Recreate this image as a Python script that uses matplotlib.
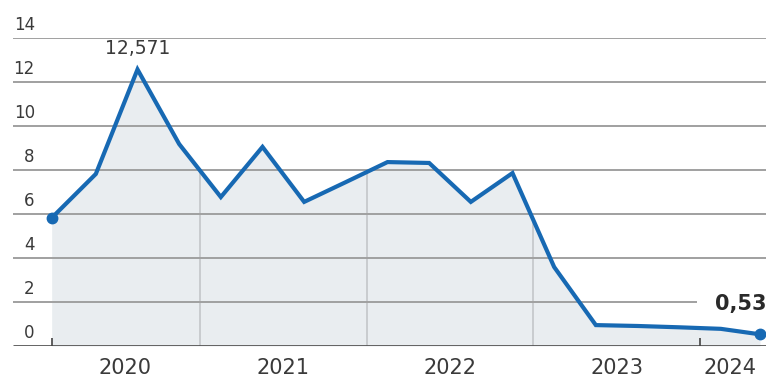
import numpy as np
import matplotlib.pyplot as plt
import matplotlib.transforms as mtransforms

# quarterly values, x as decimal years
dates = [2020.11, 2020.375, 2020.625, 2020.875,
         2021.125, 2021.375, 2021.625, 2021.875,
         2022.125, 2022.375, 2022.625, 2022.875,
         2023.125, 2023.375, 2023.625, 2023.875,
         2024.125, 2024.36]
values = [5.82, 7.82, 12.571, 9.18,
          6.77, 9.05, 6.55, 7.45,
          8.36, 8.32, 6.55, 7.86,
          3.59, 0.95, 0.91, 0.85,
          0.78, 0.53]

y_ticks = [0, 2, 4, 6, 8, 10, 12, 14]
year_labels = ['2020', '2021', '2022', '2023', '2024']
year_label_pos = [2020.55, 2021.5, 2022.5, 2023.5, 2024.18]
year_bounds = [2021, 2022, 2023]
small_ticks = [2020.11, 2024.0]

blue = '#1769b3'
grid_col = '#a0a0a0'
text_col = '#3a3a3a'

fig = plt.figure(figsize=(7.66, 3.83), dpi=100)
ax = fig.add_axes([13 / 766, 37 / 383, 753 / 766, 308 / 383])
ax.set_xlim(2019.878, 2024.396)
ax.set_ylim(0, 14)
ax.axis('off')

x = np.array(dates)
y = np.array(values)

ax.fill_between(x, 0, y, color='#e9edf0', lw=0, zorder=1)

# vertical year lines only inside the shaded area
for b in year_bounds:
    ax.vlines(b, 0, np.interp(b, x, y), color='#c6c9cc', lw=1.3, zorder=2)

# horizontal gridlines
for t in y_ticks[1:]:
    xmax = 2023.98 if t == 2 else 2024.396
    ax.hlines(t, 2019.878, xmax, color=grid_col, lw=1.4, zorder=2)
ax.hlines(0, 2019.878, 2024.396, color='#555555', lw=2, zorder=3)
for s in small_ticks:
    ax.vlines(s, 0, 0.38, color='#444444', lw=1.2, zorder=3)

ax.plot(x, y, color=blue, lw=3, solid_joinstyle='miter', zorder=4, clip_on=False)
ax.plot([x[0], x[-1]], [y[0], y[-1]], 'o', color=blue, ms=7.5, zorder=5, clip_on=False)

# y tick labels above gridlines
trans = mtransforms.blended_transform_factory(ax.transAxes, ax.transData)
offset = mtransforms.ScaledTranslation(0, 3 / 72, fig.dpi_scale_trans)
for t in y_ticks:
    ax.text(0.029, t, str(t), transform=trans + offset, ha='right', va='bottom',
            fontsize=12, color=text_col)

# year labels
transx = mtransforms.blended_transform_factory(ax.transData, ax.transAxes)
for lab, pos in zip(year_labels, year_label_pos):
    ax.text(pos, -0.072, lab, transform=transx, ha='center', va='center',
            fontsize=15, color=text_col)

# annotations
ax.annotate('12,571', (x[2], y[2]), xytext=(0, 8), textcoords='offset points',
            ha='center', va='bottom', fontsize=13.5, color=text_col)
ax.text(1.0, 1.9, '0,53', transform=trans, ha='right', va='center',
        fontsize=15, fontweight='bold', color='#2a2a2a')

fig.savefig('out.png', dpi=100)
